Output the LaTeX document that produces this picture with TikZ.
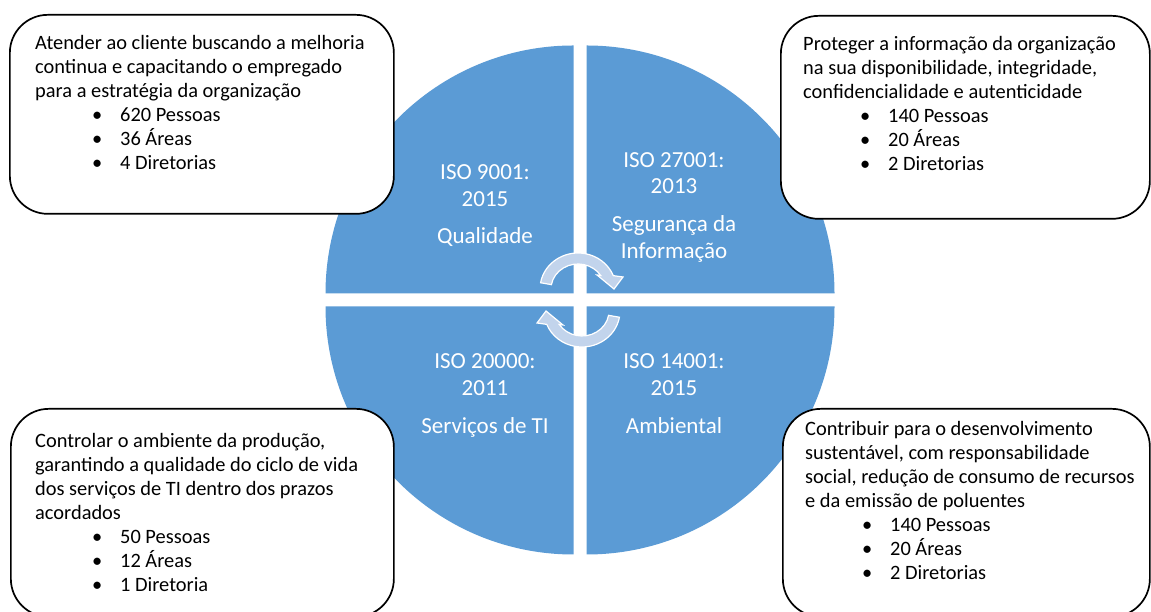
\documentclass[tikz,border=0pt]{standalone}
\usepackage{fontspec}
\setmainfont{Carlito}
\usetikzlibrary{calc}
\definecolor{qblue}{HTML}{5B9BD5}
\definecolor{arrfill}{RGB}{194,212,236}
\newcommand\itm[1]{\hspace*{62pt}\makebox[0pt]{•}\hspace*{23pt}#1}
\begin{document}
\begin{tikzpicture}[x=1pt,y=1pt,
  quad/.style={fill=qblue},
  qtext/.style={text=white, font=\fontsize{23}{27}\selectfont, anchor=base, inner sep=0pt},
  infobox/.style={draw=black, line width=1.7pt, fill=white, rounded corners=38pt, rectangle, anchor=north west, inner sep=0pt},
  btext/.style={align=left, anchor=north west, inner sep=0pt, font=\fontsize{20.4}{24}\selectfont},
  cyc/.pic={
    \fill[arrfill, draw=white, line width=1.2pt]
      ($(-2,11)+(170:38pt and 36pt)$) arc[start angle=170,end angle=21.8,x radius=38pt,y radius=36pt]
      -- (43,23) -- (34,11) -- (17,25)
      -- ($(-2,11)+(32.7:27pt and 25pt)$) arc[start angle=32.7,end angle=170,x radius=27pt,y radius=25pt]
      -- cycle;
  }]
\useasboundingbox (0,0) rectangle (1151,612);
% circle quadrants
\fill[quad] (573.5,318.5) -- (325.5,318.5) arc[start angle=180,end angle=90,radius=248pt] -- cycle;
\fill[quad] (586.5,318.5) -- (586.5,566.5) arc[start angle=90,end angle=0,radius=248pt] -- cycle;
\fill[quad] (573.5,305.5) -- (325.5,305.5) arc[start angle=180,end angle=270,radius=248pt] -- cycle;
\fill[quad] (586.5,305.5) -- (834.5,305.5) arc[start angle=0,end angle=-90,radius=248pt] -- cycle;
% quadrant texts
\node[qtext] (q1a) at (485,432) {ISO 9001:};
\node[qtext] (q1b) at (485,405) {2015};
\node[qtext] (q1c) at (485,368) {Qualidade};
\node[qtext] (q2a) at (674,444) {ISO 27001:};
\node[qtext] (q2b) at (674,418) {2013};
\node[qtext] (q2c) at (674,380) {Segurança da};
\node[qtext] (q2d) at (674,353) {Informação};
\node[qtext] (q3a) at (485,243) {ISO 20000:};
\node[qtext] (q3b) at (485,216) {2011};
\node[qtext] (q3c) at (485,178) {Serviços de TI};
\node[qtext] (q4a) at (674,243) {ISO 14001:};
\node[qtext] (q4b) at (674,216) {2015};
\node[qtext] (q4c) at (674,178) {Ambiental};
% cycle arrows
\pic (arrTop) at (580,312) {cyc};
\pic[rotate=180] (arrBot) at (580,312) {cyc};
% boxes
\node[infobox, minimum width=384pt, minimum height=199pt] (boxTL) at (9,598) {};
\node[infobox, minimum width=369pt, minimum height=203pt] (boxTR) at (780,597) {};
\node[infobox, minimum width=383pt, minimum height=208pt] (boxBL) at (10,204) {};
\node[infobox, minimum width=367pt, minimum height=208pt] (boxBR) at (782,204) {};
% box texts
\node[btext] (txtTL) at (35,578) {\rule{0pt}{15pt}Atender ao cliente buscando a melhoria\\
continua e capacitando o empregado\\
para a estratégia da organização\\
\itm{620 Pessoas}\\
\itm{36 Áreas}\\
\itm{4 Diretorias}};
\node[btext] (txtTR) at (803,576.5) {\rule{0pt}{15pt}Proteger a informação da organização\\
na sua disponibilidade, integridade,\\
confidencialidade e autenticidade\\
\itm{140 Pessoas}\\
\itm{20 Áreas}\\
\itm{2 Diretorias}};
\node[btext] (txtBL) at (35,179.5) {\rule{0pt}{15pt}Controlar o ambiente da produção,\\
garantindo a qualidade do ciclo de vida\\
dos serviços de TI dentro dos prazos\\
acordados\\
\itm{50 Pessoas}\\
\itm{12 Áreas}\\
\itm{1 Diretoria}};
\node[btext] (txtBR) at (805,192) {\rule{0pt}{15pt}Contribuir para o desenvolvimento\\
sustentável, com responsabilidade\\
social, redução de consumo de recursos\\
e da emissão de poluentes\\
\itm{140 Pessoas}\\
\itm{20 Áreas}\\
\itm{2 Diretorias}};
\end{tikzpicture}
\end{document}
